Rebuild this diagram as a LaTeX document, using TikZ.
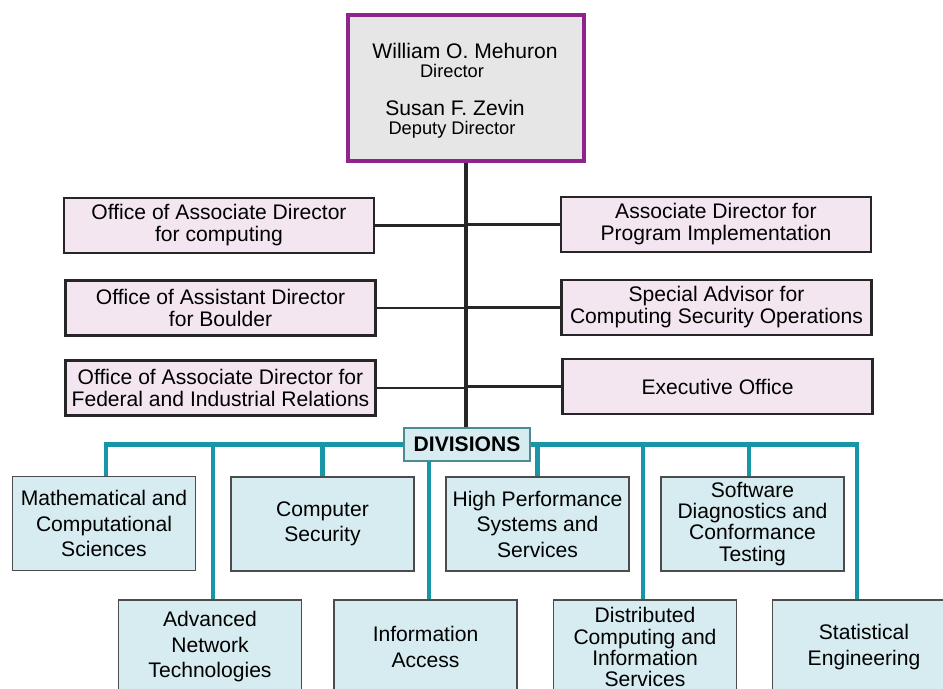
\documentclass[tikz,border=0pt]{standalone}
\usepackage{fontspec}
\setmainfont{Liberation Sans}
\usepackage{tikz}
\definecolor{officepink}{RGB}{243,230,241}
\definecolor{headgray}{RGB}{230,230,230}
\definecolor{headpurple}{RGB}{142,36,142}
\definecolor{divblue}{RGB}{214,236,240}
\definecolor{divteal}{RGB}{22,150,166}

\begin{document}
\begin{tikzpicture}[x=0.02cm, y=-0.02cm,
    office/.style={draw=black!85, line width=1.3pt, fill=officepink, minimum width=6.2cm,
        minimum height=1.1cm, inner sep=1pt, align=center, font=\fontsize{12}{12.5}\selectfont},
    division/.style={draw=black!70, line width=0.9pt, fill=divblue, minimum width=3.66cm,
        minimum height=1.88cm, inner sep=1pt, align=center, font=\fontsize{12}{14.5}\selectfont},
    tight/.style={font=\fontsize{12}{12}\selectfont},
    trunk/.style={line width=1.8pt, black!85},
    branch/.style={line width=1.4pt, black!85},
    bus/.style={line width=2.3pt, divteal}]

    \useasboundingbox (0,0) rectangle (943,689);
    \clip (0,0) rectangle (943,689);

    % Director
    \node [draw=headpurple, line width=2.5pt, fill=headgray, minimum width=4.72cm,
        minimum height=2.92cm, inner sep=0pt] (dir) at (466,88) {};
    \node [font=\fontsize{12}{12}\selectfont] (dirname) at (465,51) {William O. Mehuron};
    \node [font=\fontsize{10.4}{10.4}\selectfont] (dirtitle) at (452,71) {Director};
    \node [font=\fontsize{12}{12}\selectfont] (depname) at (455,108) {Susan F. Zevin};
    \node [font=\fontsize{10.4}{10.4}\selectfont] (deptitle) at (452,129.5) {Deputy Director};

    % Offices
    \node [office] (lo1) at (219,225.5) {Office of Associate Director\\for computing};
    \node [office] (lo2) at (220.5,308) {Office of Assistant Director\\for Boulder};
    \node [office] (lo3) at (220.5,388) {Office of Associate Director for\\Federal and Industrial Relations};
    \node [office] (ro1) at (716,224.5) {Associate Director for\\Program Implementation};
    \node [office] (ro2) at (716.5,307.5) {Special Advisor for\\Computing Security Operations};
    \node [office] (ro3) at (717.5,386.5) {Executive Office};

    % Divisions
    \node [draw=divteal!50!gray, line width=0.6pt, fill=divblue, minimum width=2.52cm,
        minimum height=0.66cm, inner sep=0pt, font=\fontsize{12}{12}\selectfont\bfseries]
        (div) at (467,444.5) {DIVISIONS};

    \node [division] (math) at (104,523.5) {Mathematical and\\Computational\\Sciences};
    \node [division] (cs) at (322.5,524) {Computer\\Security};
    \node [division] (hpss) at (537.5,524) {High Performance\\Systems and\\Services};
    \node [division, tight] (sdct) at (752.5,524) {Software\\Diagnostics and\\Conformance\\Testing};

    \node [division] (anet) at (210,647) {Advanced\\Network\\Technologies};
    \node [division] (ia) at (425.5,647) {Information\\Access};
    \node [division, tight] (dcis) at (645,647) {Distributed\\Computing and\\Information\\Services};
    \node [division] (stat) at (864,647) {Statistical\\Engineering};

    % Trunk and offices
    \draw [trunk] (dir.south) -- (dir.south |- div.north);
    \draw [branch] (lo1.east) -- (lo1.east -| dir.south);
    \draw [branch] (lo2.east) -- (lo2.east -| dir.south);
    \draw [branch] (lo3.east) -- (lo3.east -| dir.south);
    \draw [branch] (ro1.west) -- (ro1.west -| dir.south);
    \draw [branch] (ro2.west) -- (ro2.west -| dir.south);
    \draw [branch] (ro3.west) -- (ro3.west -| dir.south);

    % Teal bus
    \draw [bus] (div.west) -| ([xshift=0.04cm]math.north);
    \draw [bus] (div.east) -| ([xshift=-0.14cm]stat.north);
    \draw [bus] ([xshift=0.06cm]anet.north) -- ([xshift=0.06cm]anet.north |- div.center);
    \draw [bus] (cs.north) -- (cs.north |- div.center);
    \draw [bus] ([xshift=0.07cm]ia.north) -- ([xshift=0.07cm]ia.north |- div.south);
    \draw [bus] (hpss.north) -- (hpss.north |- div.center);
    \draw [bus] ([xshift=-0.04cm]dcis.north) -- ([xshift=-0.04cm]dcis.north |- div.center);
    \draw [bus] ([xshift=-0.07cm]sdct.north) -- ([xshift=-0.07cm]sdct.north |- div.center);

\end{tikzpicture}
\end{document}
